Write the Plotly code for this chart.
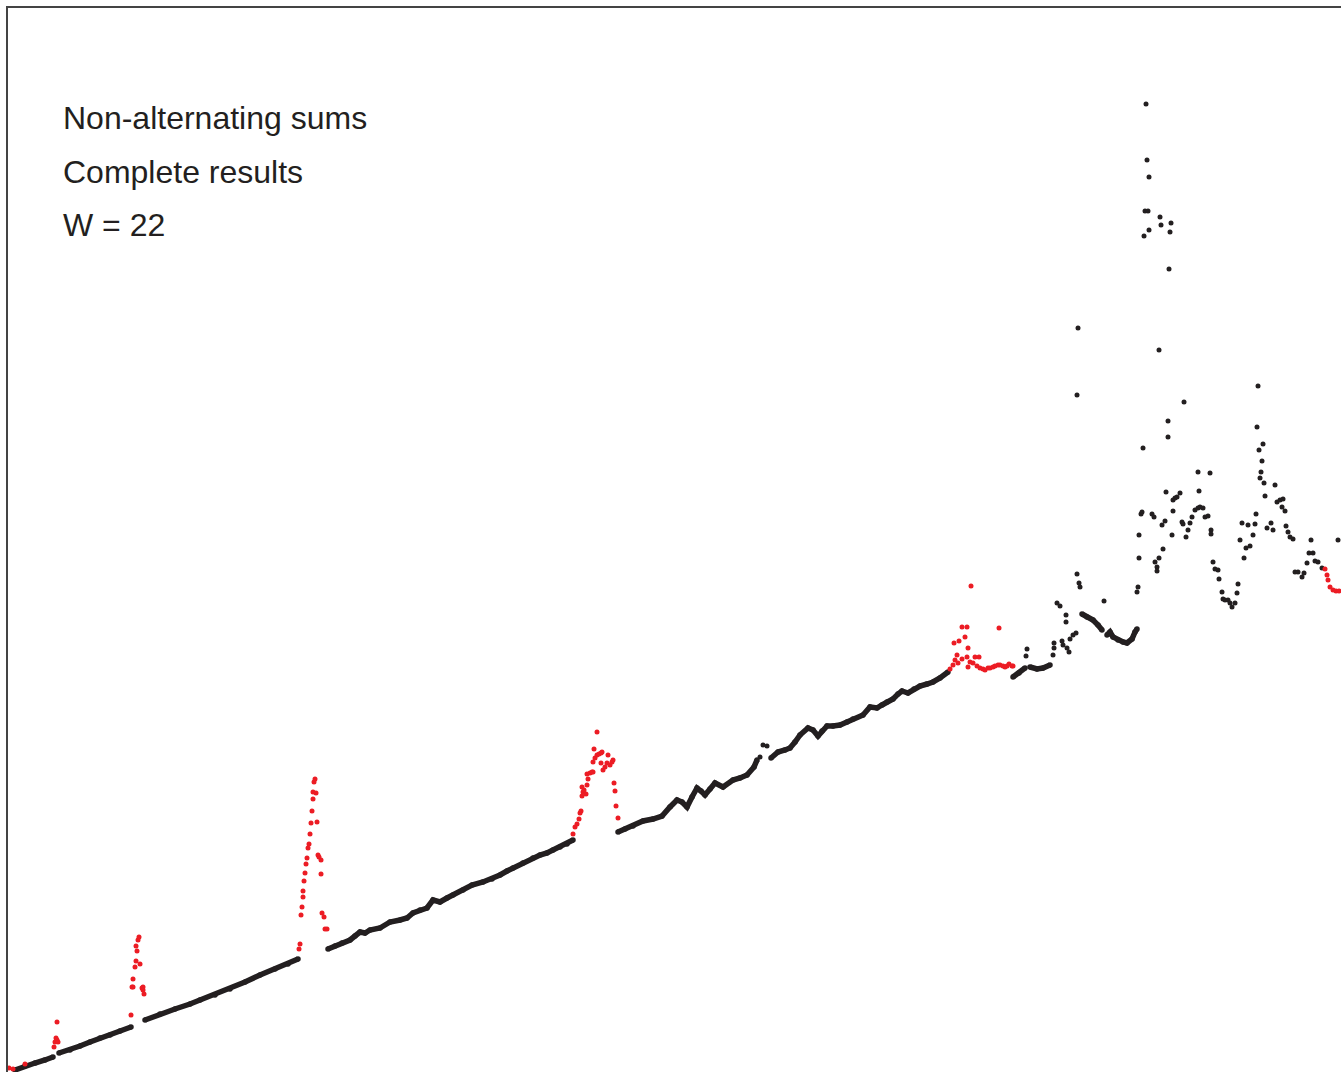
import plotly.graph_objects as go

BLACK = "#231f20"
RED = "#ec1c24"

# ---- dense black runs (index n, value) ----
run1_x = [15, 25, 35, 45, 53]
run1_y = [2, 6, 9, 12, 15]
run2_x = [59, 70, 80, 90, 100, 110, 120, 131]
run2_y = [19, 22, 26, 30, 34, 37, 41, 45]
run3_x = [145, 160, 175, 190, 200, 215, 230, 245, 260, 275, 288, 298]
run3_y = [52, 58, 63, 68, 72, 77, 83, 90, 97, 103, 108, 113]
run4_x = [328, 335, 342, 350, 355, 360, 365, 370, 380, 390, 400, 407, 413, 420, 427, 433, 440,
          447, 453, 463, 472, 483, 492, 500, 507, 513, 523, 533, 540, 547, 553, 560, 567, 573]
run4_y = [123, 126, 129, 132, 136, 140, 139, 142, 144, 150, 152, 154, 159, 162, 164, 172, 170,
          174, 177, 182, 187, 190, 193, 197, 201, 204, 209, 214, 217, 219, 222, 225, 228, 232]
run5_x = [618, 625, 633, 643, 653, 662, 670, 677, 682, 687, 692, 697, 701, 705, 710, 715, 723,
          733, 740, 747, 754, 757]
run5_y = [240, 243, 246, 251, 253, 256, 265, 272, 270, 265, 275, 284, 281, 277, 283, 289, 285,
          292, 294, 297, 305, 312]
run6_x = [771, 778, 785, 790, 795, 800, 808, 813, 818, 822, 827, 833, 840, 847, 853, 863, 870,
          877, 882, 887, 893, 898, 902, 908, 914, 920, 927, 933, 940, 948]
run6_y = [314, 320, 322, 324, 330, 337, 344, 342, 336, 341, 346, 346, 347, 350, 353, 357, 365,
          364, 367, 370, 373, 378, 381, 379, 383, 386, 388, 390, 394, 400]
run7_x = [1013, 1019, 1025]
run7_y = [395, 399, 404]
run8_x = [1030, 1037, 1043, 1050]
run8_y = [405, 403, 404, 407]
run9_x = [1082, 1087, 1093, 1098, 1102]
run9_y = [458, 455, 452, 447, 442]
run10_x = [1107, 1110, 1113, 1118, 1123, 1127, 1132, 1135, 1137]
run10_y = [437, 440, 435, 432, 430, 429, 433, 440, 443]

# ---- scattered black points ----
black_x = [760, 763, 767, 1026, 1027, 1053, 1054, 1054, 1062, 1063, 1067, 1069, 1070, 1073, 1076,
           1057, 1060, 1066, 1066, 1077, 1079, 1080, 1104, 1137, 1138,
           1139, 1139, 1141, 1142, 1143, 1146, 1147, 1149, 1145, 1148, 1160, 1161, 1171, 1170, 1149,
           1144, 1169, 1078, 1159, 1077, 1152, 1154, 1155, 1157, 1157, 1159, 1163, 1162, 1165, 1172,
           1173, 1166, 1173, 1175, 1177, 1180, 1168, 1168, 1184, 1198, 1210, 1199, 1182, 1183, 1186,
           1188, 1190, 1192, 1195, 1198, 1200, 1203, 1205, 1208, 1211, 1211, 1213, 1215, 1218, 1219,
           1222, 1223, 1225, 1228, 1230, 1232, 1235, 1237, 1238, 1240, 1242, 1244, 1246, 1248, 1250,
           1253, 1255, 1256, 1257, 1258, 1259, 1263, 1262, 1261, 1260, 1264, 1265, 1275, 1277, 1280,
           1283, 1282, 1285, 1267, 1271, 1273, 1286, 1288, 1290, 1293, 1295, 1298, 1302, 1304, 1307,
           1309, 1311, 1313, 1315, 1318, 1322, 1338]
black_y = [315, 327, 326, 416, 423, 417, 424, 429, 431, 427, 424, 420, 433, 437, 439,
           469, 466, 457, 450, 498, 489, 485, 471, 480, 485,
           514, 537, 558, 560, 624, 968, 912, 895, 861, 861, 855, 847, 849, 840, 842,
           836, 803, 744, 722, 677, 558, 555, 510, 505, 501, 514, 523, 547, 551, 537,
           561, 580, 572, 574, 575, 579, 635, 651, 670, 600, 599, 581, 550, 548, 535,
           542, 549, 555, 562, 564, 565, 564, 555, 556, 542, 538, 510, 503, 502, 493,
           480, 473, 472, 472, 469, 465, 469, 479, 488, 532, 549, 514, 524, 547, 526,
           537, 548, 558, 645, 686, 622, 628, 611, 600, 594, 589, 576, 587, 570, 572,
           573, 565, 561, 544, 549, 542, 546, 540, 535, 533, 500, 500, 495, 499, 509,
           519, 532, 519, 511, 510, 504, 532]

# ---- red points ----
red_x = [9, 13, 25,
         57, 56, 57, 55, 58, 54,
         131, 133, 132, 133, 135, 140, 136, 137, 136, 138, 139, 142, 143, 144, 143,
         299, 300, 301, 302, 303, 303, 304, 305, 306, 307, 308, 309, 310, 311, 312, 313, 313, 316,
         314, 315, 317, 318, 319, 321, 321, 322, 324, 325, 327,
         573, 575, 577, 579, 580, 581, 582, 583, 582, 584, 586, 587, 588, 587, 590, 592, 593, 593,
         595, 594, 597, 597, 599, 601, 602, 601, 603, 605, 607, 608, 610, 612, 613, 614, 615, 616, 618,
         950, 953, 955, 957, 958, 962, 954, 959, 962, 967, 965, 968, 971, 967, 970, 968, 975, 979,
         973, 977, 980, 983, 985, 988, 990, 993, 995, 998, 1000, 1003, 1005, 1007, 1009, 1012, 1013, 999,
         1325, 1327, 1328, 1330, 1333, 1336, 1339]
red_y = [4, 3, 8,
         50, 34, 32, 30, 30, 25,
         57, 85, 85, 93, 105, 108, 111, 121, 126, 132, 135, 84, 82, 78, 85,
         123, 128, 157, 165, 175, 181, 191, 199, 208, 214, 224, 228, 238, 249, 261, 273, 280, 279,
         290, 293, 250, 217, 215, 212, 198, 159, 155, 143, 143,
         238, 245, 248, 253, 259, 261, 276, 280, 285, 282, 278, 287, 293, 298, 299, 300, 300, 310,
         314, 323, 340, 317, 318, 319, 320, 309, 302, 305, 309, 317, 307, 310, 312, 289, 281, 266, 254,
         403, 407, 412, 417, 409, 413, 429, 431, 445, 445, 435, 424, 486, 415, 410, 405, 415, 415,
         409, 406, 404, 403, 402, 404, 404, 405, 406, 407, 407, 406, 405, 406, 408, 406, 406, 444,
         503, 497, 492, 485, 482, 481, 481]

labels = ["Non-alternating sums", "Complete results", "W = 22"]

runs = [(run1_x, run1_y), (run2_x, run2_y), (run3_x, run3_y), (run4_x, run4_y),
        (run5_x, run5_y), (run6_x, run6_y), (run7_x, run7_y), (run8_x, run8_y),
        (run9_x, run9_y), (run10_x, run10_y)]

fig = go.Figure()
for rx, ry in runs:
    fig.add_trace(go.Scatter(x=rx, y=ry, mode="lines+markers",
                             line=dict(color=BLACK, width=5.5),
                             marker=dict(color=BLACK, size=5.5),
                             showlegend=False, hoverinfo="skip"))
fig.add_trace(go.Scatter(x=black_x, y=black_y, mode="markers",
                         marker=dict(color=BLACK, size=5), showlegend=False))
fig.add_trace(go.Scatter(x=red_x, y=red_y, mode="markers",
                         marker=dict(color=RED, size=5), showlegend=False))

for i, t in enumerate(labels):
    fig.add_annotation(text=t, xref="paper", yref="paper",
                       x=0.0395, y=[0.8966, 0.8459, 0.7961][i],
                       xanchor="left", yanchor="middle", showarrow=False,
                       font=dict(family="Liberation Sans", size=32, color=BLACK))

fig.update_layout(
    width=1341, height=1072,
    margin=dict(l=8, r=0, t=8, b=0),
    paper_bgcolor="white", plot_bgcolor="white",
    xaxis=dict(range=[8, 1341], showgrid=False, zeroline=False, showticklabels=False,
               ticks="", side="top", showline=True, linecolor="#444", linewidth=1.5),
    yaxis=dict(range=[0, 1064], showgrid=False, zeroline=False, showticklabels=False,
               ticks="", showline=True, linecolor="#444", linewidth=1.5),
)

fig.write_html("out.html", config={"displayModeBar": False},
               post_script="document.body.style.margin='0';document.body.style.overflow='hidden';")
